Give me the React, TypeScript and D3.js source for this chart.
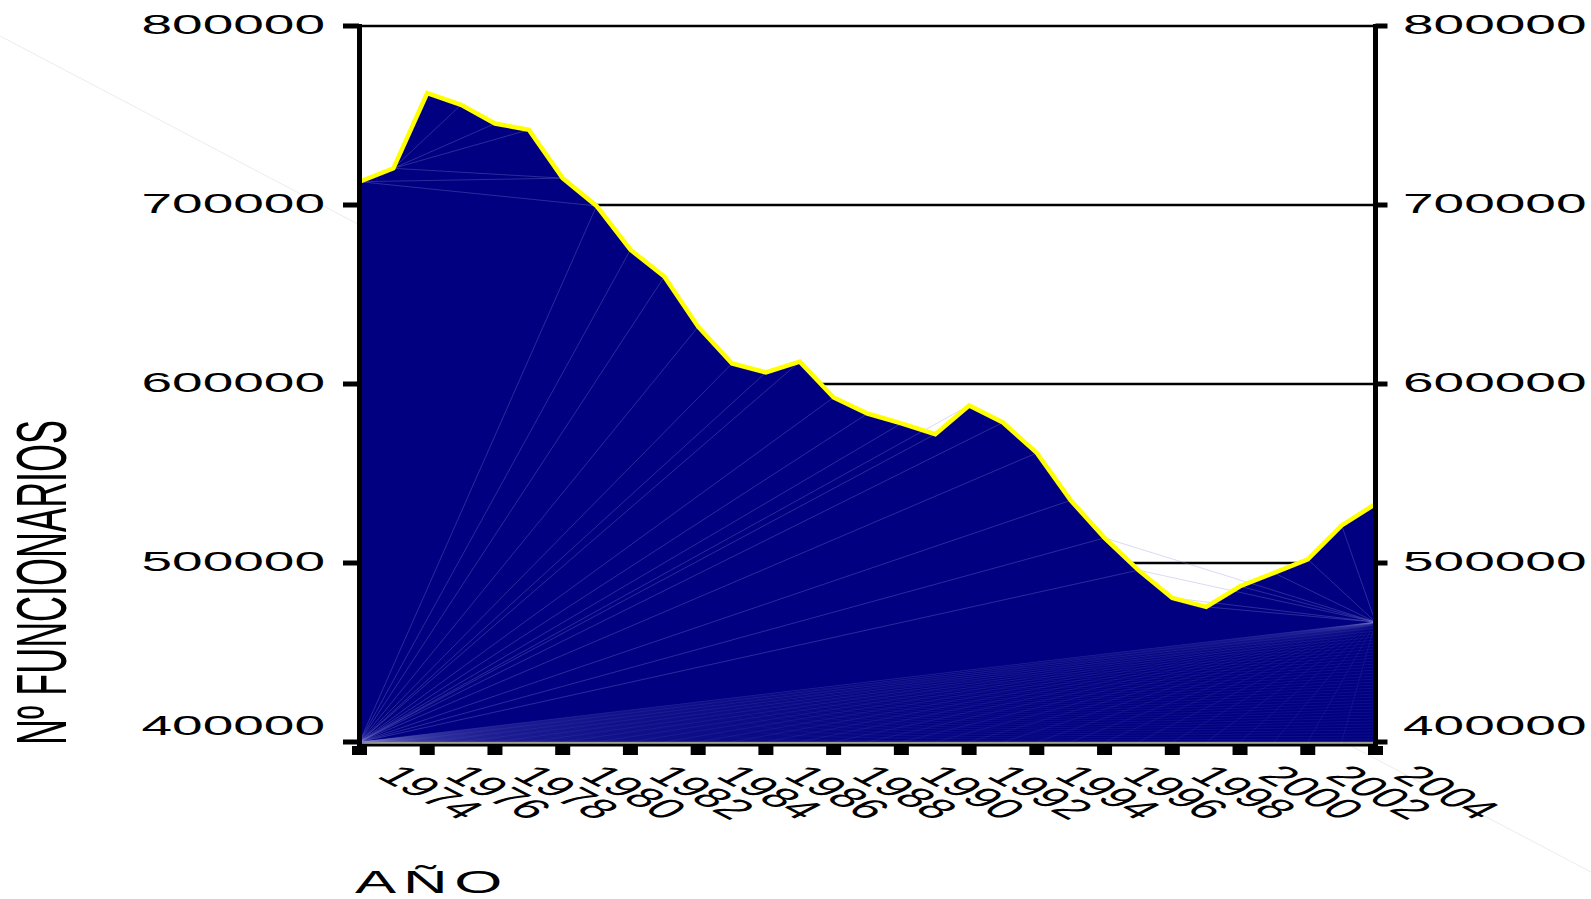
import React from "react";
import * as d3 from "d3";

const years = [1974, 1975, 1976, 1977, 1978, 1979, 1980, 1981, 1982, 1983, 1984, 1985, 1986, 1987, 1988, 1989, 1990, 1991, 1992, 1993, 1994, 1995, 1996, 1997, 1998, 1999, 2000, 2001, 2002, 2003, 2004];
const funcionarios = [713000, 720500, 762500, 756000, 745500, 742000, 715000, 699500, 675000, 660000, 632000, 611500, 606500, 612500, 592500, 583500, 578000, 572000, 588000, 578500, 561500, 535000, 514000, 496000, 480500, 475500, 487000, 494500, 502000, 521000, 533000];
const yTicks = [400000, 500000, 600000, 700000, 800000];
const yTickLabels = ["400000", "500000", "600000", "700000", "800000"];
const xTickYears = [1974, 1976, 1978, 1980, 1982, 1984, 1986, 1988, 1990, 1992, 1994, 1996, 1998, 2000, 2002, 2004];
const xTickLabels = ["1974", "1976", "1978", "1980", "1982", "1984", "1986", "1988", "1990", "1992", "1994", "1996", "1998", "2000", "2002", "2004"];
const yTitle = "Nº FUNCIONARIOS";
const xTitle = "AÑO";
// pivot value on the right edge where the fill's rendering seams converge
const seamPivotValue = 467000;

const W = 1591;
const H = 899;
const SX = 1.93; // horizontal stretch of the original picture's text
const FONT = "'Liberation Sans', Arial, sans-serif";

export default function App() {
  const x = d3.scaleLinear().domain([1974, 2004]).range([359.5, 1375.5]);
  const y = d3.scaleLinear().domain([400000, 800000]).range([742, 26]);
  const data = years.map((yr, i) => ({ yr, v: funcionarios[i] }));

  const area = d3
    .area<{ yr: number; v: number }>()
    .x((d) => x(d.yr))
    .y0(y(400000))
    .y1((d) => y(d.v));
  const line = d3
    .line<{ yr: number; v: number }>()
    .x((d) => x(d.yr))
    .y((d) => y(d.v));

  const bl: [number, number] = [x(1974), y(400000)];
  const rp: [number, number] = [x(2004), y(seamPivotValue)];
  const seams: [number, number, number, number][] = [];
  const pt = (yr: number): [number, number] => [x(yr), y(funcionarios[years.indexOf(yr)])];
  // upper-left fan
  [1977, 1978, 1979, 1980].forEach((yr) => {
    const a = pt(1975), b = pt(yr);
    seams.push([a[0], a[1], b[0], b[1]]);
  });
  [1980, 1981].forEach((yr) => {
    const a = pt(1974), b = pt(yr);
    seams.push([a[0], a[1], b[0], b[1]]);
  });
  // fan from bottom-left corner
  years.filter((yr) => yr >= 1981 && yr <= 1997).forEach((yr) => {
    const b = pt(yr);
    seams.push([bl[0], bl[1], b[0], b[1]]);
  });
  // fan from right pivot to top
  years.filter((yr) => yr >= 1996 && yr <= 2003).forEach((yr) => {
    const b = pt(yr);
    seams.push([rp[0], rp[1], b[0], b[1]]);
  });
  // dense fans near the bottom
  const denseA: [number, number, number, number][] = [];
  years.filter((yr) => yr < 2004).forEach((yr) => {
    denseA.push([rp[0], rp[1], x(yr), y(400000)]);
  });
  d3.range(0, 41).forEach((k) => {
    const v = 400000 + ((seamPivotValue - 400000) * k) / 40;
    denseA.push([bl[0], bl[1], x(2004), y(v)]);
  });

  const gridVals = [500000, 600000, 700000, 800000];

  return (
    <svg
      width={W}
      height={H}
      style={{ position: "absolute", left: 0, top: 0, background: "#fff" }}
      fontFamily={FONT}
    >
      <rect x={0} y={0} width={W} height={H} fill="#fff" />
      {/* faint background diagonal */}
      <line x1={0} y1={36} x2={W} y2={872} stroke="#ececec" strokeWidth={1} />

      {/* gridlines */}
      {gridVals.map((v) => (
        <line key={v} x1={x(1974)} x2={x(2004)} y1={y(v)} y2={y(v)} stroke="#000" strokeWidth={2.5} />
      ))}

      {/* area */}
      <path d={area(data) || ""} fill="#000080" stroke="#4a4a1a" strokeWidth={1} />
      {denseA.map((s, i) => (
        <line key={"d" + i} x1={s[0]} y1={s[1]} x2={s[2]} y2={s[3]} stroke="#8a8ad8" strokeOpacity={0.18} strokeWidth={0.6} />
      ))}
      {seams.map((s, i) => (
        <line key={"s" + i} x1={s[0]} y1={s[1]} x2={s[2]} y2={s[3]} stroke="#8a8ad8" strokeOpacity={0.45} strokeWidth={0.7} />
      ))}
      <path d={line(data) || ""} fill="none" stroke="#ffff00" strokeWidth={4.5} strokeLinejoin="miter" />

      {/* axes */}
      <line x1={x(1974)} x2={x(1974)} y1={24} y2={747} stroke="#000" strokeWidth={5} />
      <line x1={x(2004)} x2={x(2004)} y1={24} y2={752} stroke="#000" strokeWidth={5} />
      <line x1={x(1974) - 2} x2={x(2004) + 2} y1={745} y2={745} stroke="#000" strokeWidth={3} />

      {/* y ticks and labels */}
      {yTicks.map((v, i) => {
        const ty = y(v);
        const by = v === 400000 ? 735 : ty + 8;
        return (
          <g key={v}>
            <rect x={343} y={ty - 2.5} width={16} height={5} fill="#000" />
            <rect x={x(2004)} y={ty - 2.5} width={12} height={5} fill="#000" />
            <g transform={`translate(325,${by}) scale(${SX},1)`}>
              <text textAnchor="end" fontSize={28.5} fill="#000">{yTickLabels[i]}</text>
            </g>
            <g transform={`translate(1403,${by}) scale(${SX},1)`}>
              <text textAnchor="start" fontSize={28.5} fill="#000">{yTickLabels[i]}</text>
            </g>
          </g>
        );
      })}

      {/* x ticks and labels */}
      {xTickYears.map((yr, i) => (
        <g key={yr}>
          <rect x={x(yr) - 7.5} y={746} width={15} height={9} fill="#000" />
          <g transform={`translate(${x(yr) + 16},777) scale(${SX},1)`}>
            <text transform="rotate(45)" fontSize={28} fill="#000">{xTickLabels[i]}</text>
          </g>
        </g>
      ))}

      {/* titles */}
      <g transform={`translate(355,893) scale(${SX},1)`}>
        <text fontSize={32} letterSpacing={3.5} fill="#000">{xTitle}</text>
      </g>
      <g transform={`translate(66,745) scale(${SX},1)`}>
        <text transform="rotate(-90)" fontSize={36} fill="#000">{yTitle}</text>
      </g>
    </svg>
  );
}
